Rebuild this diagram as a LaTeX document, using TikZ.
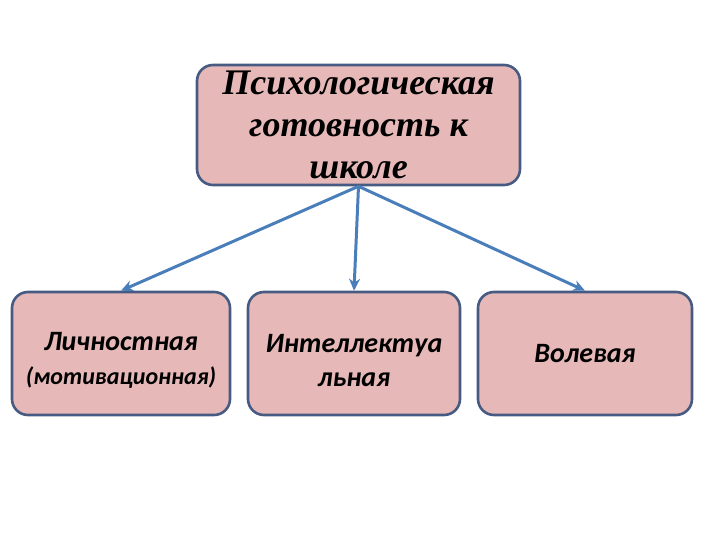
\documentclass[tikz,border=0pt]{standalone}
\usepackage{fontspec}
\setmainfont{Liberation Serif}
\newfontfamily\calfont{Carlito}
\usetikzlibrary{arrows.meta}
\definecolor{boxfill}{HTML}{E6B9B8}
\definecolor{boxline}{HTML}{475A82}
\definecolor{arrblue}{HTML}{4A7EBB}
\tikzset{
  box/.style={draw=boxline,fill=boxfill,line width=2.6pt,rounded corners=16pt,align=center,inner sep=0pt},
  arr/.style={draw=arrblue,line width=3pt,-{Stealth[length=12pt,width=11pt]}}
}
\begin{document}
\begin{tikzpicture}[x=1pt,y=-1pt]
	\useasboundingbox (0,0) rectangle (720,540);
	\node[box,minimum width=323pt,minimum height=120pt,font=\fontsize{36}{42}\selectfont\bfseries\itshape] (top) at (358.5,125) {Психологическая\\готовность к\\школе};
	\node[box,minimum width=218pt,minimum height=123pt,font=\calfont\fontsize{28}{34}\selectfont\bfseries\itshape] (pers) at (121,353.5) {\rule{0pt}{32pt}Личностная\\{\fontsize{24}{34}\selectfont(мотивационная)}};
	\node[box,minimum width=212pt,minimum height=123pt,font=\calfont\fontsize{28}{34}\selectfont\bfseries\itshape] (intel) at (354,353.5) {\rule{0pt}{32pt}Интеллектуа\\льная};
	\node[box,minimum width=214pt,minimum height=123pt,font=\calfont\fontsize{28}{34}\selectfont\bfseries\itshape] (will) at (585,353.5) {Волевая};
	\draw[arr] (top.south) -- (pers.north);
	\draw[arr] (top.south) -- (intel.north);
	\draw[arr] (top.south) -- (will.north);
\end{tikzpicture}
\end{document}
